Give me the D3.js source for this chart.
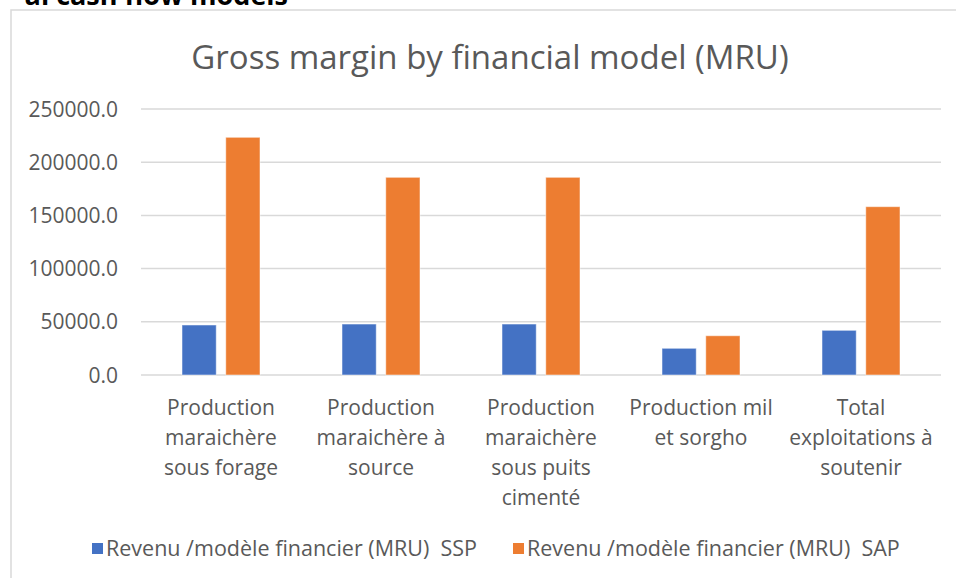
<!DOCTYPE html>
<html lang="en">
<head>
  <meta charset="UTF-8">
  <title>Gross margin by financial model</title>
  <style>
    body { margin: 0; background: #fff; }
    text { font-family: "Open Sans", "Noto Sans", sans-serif; fill: #595959; }
    .title { font-size: 33px; }
    .tick-label { font-size: 21px; }
    .cat-label { font-size: 21px; }
    .legend text { font-size: 21.5px; white-space: pre; }
    .doc-heading { font-weight: bold; fill: #000; font-size: 27px; }
  </style>
</head>
<body>
  <svg width="956" height="578"></svg>
  <script src="https://cdn.jsdelivr.net/npm/d3@7/dist/d3.min.js"></script>
  <script>
    var categories = [
      ['Production', 'maraichère', 'sous forage'],
      ['Production', 'maraichère à', 'source'],
      ['Production', 'maraichère', 'sous puits', 'cimenté'],
      ['Production mil', 'et sorgho'],
      ['Total', 'exploitations à', 'soutenir']
    ]
    var seriesNames = ['Revenu /modèle financier (MRU)  SSP', 'Revenu /modèle financier (MRU)  SAP']
    var ssp = [47000, 47900, 47900, 25100, 42000]
    var sap = [223400, 185800, 185800, 36900, 158200]
    var yTicks = [0, 50000, 100000, 150000, 200000, 250000]
    var colors = ['#4472C4', '#ED7D31']

    var svg = d3.select('svg')
    var margin = { left: 141, right: 941, top: 109, bottom: 375 }

    // leftover heading of the surrounding document, cut at the top
    svg.append('text')
      .attr('class', 'doc-heading')
      .attr('x', 288)
      .attr('y', 5)
      .attr('text-anchor', 'end')
      .text('al cash flow models')

    // chart frame
    svg.append('rect')
      .attr('x', 11)
      .attr('y', 10)
      .attr('width', 1000)
      .attr('height', 700)
      .attr('fill', 'none')
      .attr('stroke', '#d9d9d9')
      .attr('stroke-width', 1.5)

    svg.append('text')
      .attr('class', 'title')
      .attr('x', 490)
      .attr('y', 69)
      .attr('text-anchor', 'middle')
      .text('Gross margin by financial model (MRU)')

    var keys = d3.range(categories.length)
    var x0 = d3.scaleBand()
      .domain(keys)
      .range([margin.left, margin.right])
      .paddingInner(0.5125)
      .paddingOuter(0.25625)

    var x1 = d3.scaleBand()
      .domain([0, 1])
      .range([0, x0.bandwidth()])
      .paddingInner(0.2174)

    var y = d3.scaleLinear()
      .domain([0, 250000])
      .range([margin.bottom, margin.top])

    // gridlines
    svg.append('g')
      .selectAll('line')
      .data(yTicks)
      .enter()
      .append('line')
      .attr('x1', margin.left)
      .attr('x2', margin.right)
      .attr('y1', function(d) { return y(d) })
      .attr('y2', function(d) { return y(d) })
      .attr('stroke', '#d9d9d9')
      .attr('stroke-width', 1.5)

    svg.append('g')
      .selectAll('text')
      .data(yTicks)
      .enter()
      .append('text')
      .attr('class', 'tick-label')
      .attr('x', 118)
      .attr('y', function(d) { return y(d) })
      .attr('dy', '0.36em')
      .attr('text-anchor', 'end')
      .text(function(d) { return d3.format('.1f')(d) })

    var rows = keys.map(function(i) { return [ssp[i], sap[i]] })

    var groups = svg.append('g')
      .selectAll('g')
      .data(rows)
      .enter()
      .append('g')
      .attr('transform', function(d, i) { return 'translate(' + x0(i) + ',0)' })

    groups.selectAll('rect')
      .data(function(d) { return d })
      .enter()
      .append('rect')
      .attr('x', function(d, j) { return x1(j) })
      .attr('y', function(d) { return y(d) })
      .attr('width', x1.bandwidth())
      .attr('height', function(d) { return y(0) - y(d) })
      .attr('fill', function(d, j) { return colors[j] })
      .attr('stroke', 'rgba(255,255,255,0.5)')
      .attr('stroke-width', 1)

    // category labels, wrapped like excel does
    svg.append('g')
      .selectAll('text')
      .data(categories)
      .enter()
      .append('text')
      .attr('class', 'cat-label')
      .attr('text-anchor', 'middle')
      .attr('transform', function(d, i) {
        return 'translate(' + (x0(i) + x0.bandwidth() / 2) + ',415)'
      })
      .each(function(lines) {
        var t = d3.select(this)
        lines.forEach(function(line, k) {
          t.append('tspan')
            .attr('x', 0)
            .attr('y', k * 30)
            .text(line)
        })
      })

    // legend
    var legendX = [92, 513]
    var legend = svg.append('g')
      .attr('class', 'legend')
      .selectAll('g')
      .data(seriesNames)
      .enter()
      .append('g')
      .attr('transform', function(d, i) { return 'translate(' + legendX[i] + ',543)' })

    legend.append('rect')
      .attr('width', 11)
      .attr('height', 11)
      .attr('fill', function(d, i) { return colors[i] })

    legend.append('text')
      .attr('x', 14)
      .attr('y', 13)
      .text(function(d) { return d })
  </script>
</body>
</html>
